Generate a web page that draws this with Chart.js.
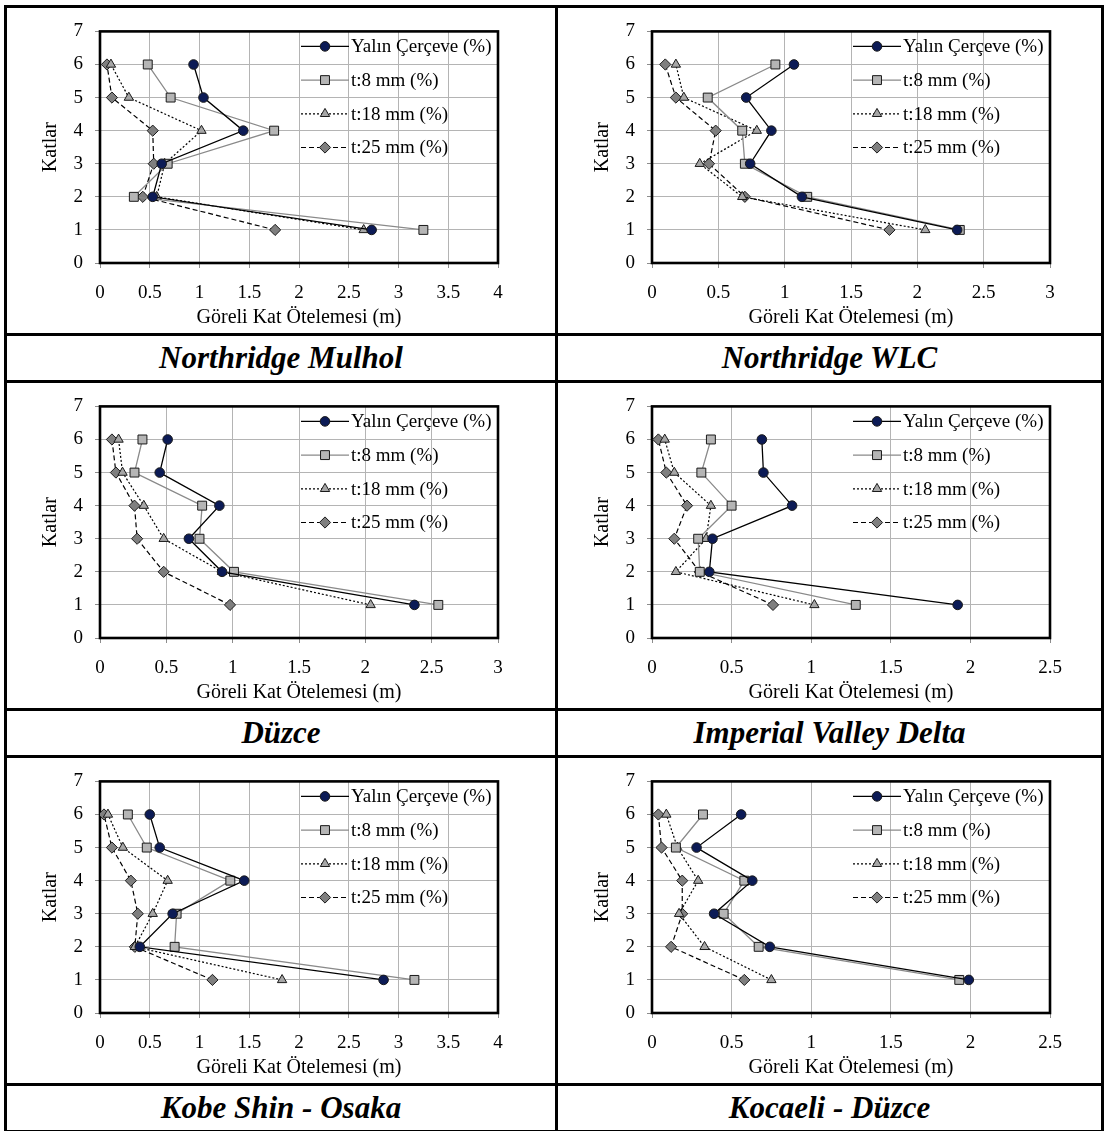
<!DOCTYPE html>
<html lang="tr">
<head>
<meta charset="utf-8">
<title>Göreli Kat Ötelemesi</title>
<script src="https://cdn.jsdelivr.net/npm/chart.js@4.4.1/dist/chart.umd.min.js"></script>
<style>
    html, body { margin: 0; padding: 0; background: #fff; }
    body { width: 1105px; height: 1131px; position: relative; overflow: hidden; }
    canvas { position: absolute; }
    .cizgi { position: absolute; background: #000; }
    .baslik {
        position: absolute;
        font: bold italic 31px 'Liberation Serif', 'Times New Roman', serif;
        text-align: center;
        height: 44px;
        line-height: 44px;
        color: #000;
    }
</style>
</head>
<body>
<script>
// Katlar (1. kattan 6. kata)
const katlar = [1, 2, 3, 4, 5, 6];
const seriAdlari = ['Yalın Çerçeve (%)', 't:8 mm (%)', 't:18 mm (%)', 't:25 mm (%)'];
const depremler = ['Northridge Mulhol', 'Northridge WLC', 'Düzce', 'Imperial Valley Delta', 'Kobe Shin - Osaka', 'Kocaeli - Düzce'];
const xEksenMax = [4, 3, 3, 2.5, 4, 2.5];

// Göreli kat ötelemeleri, kat sırasıyla
const mulholYalin = [2.73, 0.53, 0.62, 1.44, 1.04, 0.94];
const mulholT8    = [3.25, 0.34, 0.68, 1.75, 0.71, 0.48];
const mulholT18   = [2.65, 0.57, 0.65, 1.02, 0.29, 0.11];
const mulholT25   = [1.76, 0.43, 0.54, 0.53, 0.12, 0.07];

const wlcYalin = [2.30, 1.13, 0.74, 0.90, 0.71, 1.07];
const wlcT8    = [2.32, 1.17, 0.70, 0.68, 0.42, 0.93];
const wlcT18   = [2.06, 0.68, 0.36, 0.79, 0.24, 0.18];
const wlcT25   = [1.79, 0.70, 0.43, 0.48, 0.18, 0.10];

const duzceYalin = [2.37, 0.92, 0.67, 0.90, 0.45, 0.51];
const duzceT8    = [2.55, 1.01, 0.75, 0.77, 0.26, 0.32];
const duzceT18   = [2.04, 0.92, 0.48, 0.33, 0.17, 0.14];
const duzceT25   = [0.98, 0.48, 0.28, 0.26, 0.12, 0.09];

const imperialYalin = [1.92, 0.36, 0.38, 0.88, 0.70, 0.69];
const imperialT8    = [1.28, 0.30, 0.29, 0.50, 0.31, 0.37];
const imperialT18   = [1.02, 0.15, 0.34, 0.37, 0.14, 0.08];
const imperialT25   = [0.76, 0.30, 0.14, 0.22, 0.09, 0.04];

const kobeYalin = [2.85, 0.40, 0.73, 1.45, 0.60, 0.50];
const kobeT8    = [3.16, 0.75, 0.77, 1.31, 0.47, 0.28];
const kobeT18   = [1.83, 0.35, 0.53, 0.68, 0.23, 0.08];
const kobeT25   = [1.13, 0.35, 0.38, 0.31, 0.12, 0.04];

const kocaeliYalin = [1.99, 0.74, 0.39, 0.63, 0.28, 0.56];
const kocaeliT8    = [1.93, 0.67, 0.45, 0.58, 0.15, 0.32];
const kocaeliT18   = [0.75, 0.33, 0.17, 0.29, 0.16, 0.09];
const kocaeliT25   = [0.58, 0.12, 0.19, 0.19, 0.06, 0.04];

const tumVeriler = [
    [mulholYalin, mulholT8, mulholT18, mulholT25],
    [wlcYalin, wlcT8, wlcT18, wlcT25],
    [duzceYalin, duzceT8, duzceT18, duzceT25],
    [imperialYalin, imperialT8, imperialT18, imperialT25],
    [kobeYalin, kobeT8, kobeT18, kobeT25],
    [kocaeliYalin, kocaeliT8, kocaeliT18, kocaeliT25]
];

// Seri görünümleri
const seriStilleri = [
    { borderColor: '#000', borderWidth: 1.3, borderDash: [], pointStyle: 'circle', pointRadius: 4.8, pointBackgroundColor: '#0c1b56' },
    { borderColor: '#8a8a8a', borderWidth: 1.3, borderDash: [], pointStyle: 'rect', pointRadius: 6.3, pointBackgroundColor: '#b5b5b5' },
    { borderColor: '#000', borderWidth: 1.2, borderDash: [2, 2], pointStyle: 'triangle', pointRadius: 5.4, pointBackgroundColor: '#a6a6a6' },
    { borderColor: '#000', borderWidth: 1.2, borderDash: [5, 3], pointStyle: 'rectRot', pointRadius: 5.6, pointBackgroundColor: '#7f7f7f' }
];

const yaziTipi = "'Liberation Serif', 'Times New Roman', serif";
Chart.defaults.font.family = yaziTipi;
Chart.defaults.color = '#000';

// Tablo çizgileri
function cizgi(x, y, w, h) {
    const d = document.createElement('div');
    d.className = 'cizgi';
    d.style.left = x + 'px';
    d.style.top = y + 'px';
    d.style.width = w + 'px';
    d.style.height = h + 'px';
    document.body.appendChild(d);
}

// Grafik alanının kalın çerçevesi
const cerceveEklentisi = {
    id: 'cerceve',
    beforeDatasetsDraw(chart) {
        const a = chart.chartArea;
        const ctx = chart.ctx;
        ctx.save();
        ctx.strokeStyle = '#000';
        ctx.lineWidth = 2.6;
        ctx.strokeRect(a.left, a.top, a.right - a.left, a.bottom - a.top);
        ctx.restore();
    }
};

function isaretCiz(ctx, stil, r, x, y) {
    ctx.beginPath();
    if (stil === 'circle') {
        ctx.arc(x, y, r, 0, Math.PI * 2);
    } else if (stil === 'rect') {
        const s = r * Math.SQRT1_2;
        ctx.rect(x - s, y - s, 2 * s, 2 * s);
    } else if (stil === 'triangle') {
        ctx.moveTo(x, y - r);
        ctx.lineTo(x + r * Math.sin(Math.PI * 2 / 3), y - r * Math.cos(Math.PI * 2 / 3));
        ctx.lineTo(x + r * Math.sin(Math.PI * 4 / 3), y - r * Math.cos(Math.PI * 4 / 3));
        ctx.closePath();
    } else {
        ctx.moveTo(x, y - r);
        ctx.lineTo(x + r, y);
        ctx.lineTo(x, y + r);
        ctx.lineTo(x - r, y);
        ctx.closePath();
    }
    ctx.fill();
    ctx.stroke();
}

// Grafik içindeki lejant (çizgi + işaret)
const lejantEklentisi = {
    id: 'lejant',
    afterDraw(chart) {
        const a = chart.chartArea;
        const ctx = chart.ctx;
        ctx.save();
        chart.data.datasets.forEach(function(ds, i) {
            const y = a.top + 15 + i * 33.7;
            const x0 = a.right - 197;
            ctx.strokeStyle = ds.borderColor;
            ctx.lineWidth = ds.borderWidth;
            ctx.setLineDash(ds.borderDash);
            ctx.beginPath();
            ctx.moveTo(x0, y);
            ctx.lineTo(x0 + 48, y);
            ctx.stroke();
            ctx.setLineDash([]);
            ctx.fillStyle = ds.pointBackgroundColor;
            ctx.strokeStyle = '#1a1a1a';
            ctx.lineWidth = 1;
            isaretCiz(ctx, ds.pointStyle, ds.pointRadius, x0 + 24, y);
            ctx.fillStyle = '#000';
            ctx.font = '19px ' + yaziTipi;
            ctx.textBaseline = 'middle';
            ctx.textAlign = 'left';
            ctx.fillText(ds.label, a.right - 147, y + 1);
        });
        ctx.restore();
    }
};

function grafikOlustur(canvas, seriler, xMax) {
    const datasets = seriler.map(function(degerler, i) {
        const s = seriStilleri[i];
        return {
            label: seriAdlari[i],
            data: degerler.map(function(v, k) { return { x: v, y: katlar[k] }; }),
            showLine: true,
            borderColor: s.borderColor,
            borderWidth: s.borderWidth,
            borderDash: s.borderDash,
            pointStyle: s.pointStyle,
            pointRadius: s.pointRadius,
            pointBackgroundColor: s.pointBackgroundColor,
            pointBorderColor: '#1a1a1a',
            pointBorderWidth: 1,
            tension: 0
        };
    });

    return new Chart(canvas, {
        type: 'scatter',
        data: { datasets: datasets },
        options: {
            responsive: false,
            animation: false,
            devicePixelRatio: 1,
            locale: 'en-US',
            layout: { padding: { top: 22, right: 52, bottom: 0, left: 0 } },
            plugins: {
                legend: { display: false },
                tooltip: { enabled: false }
            },
            scales: {
                x: {
                    type: 'linear',
                    min: 0,
                    max: xMax,
                    border: { display: false },
                    grid: { color: '#b4b4b4', tickLength: 5, tickColor: '#8c8c8c' },
                    ticks: {
                        stepSize: 0.5,
                        autoSkip: false,
                        padding: 14,
                        font: { size: 19, family: yaziTipi },
                        color: '#000',
                        callback: function(value) { return String(Math.round(value * 10) / 10); }
                    },
                    title: {
                        display: true,
                        text: 'Göreli Kat Ötelemesi (m)',
                        font: { size: 20, family: yaziTipi },
                        color: '#000',
                        padding: { top: 0, bottom: 3 }
                    },
                    afterFit: function(scale) { scale.height = 70; }
                },
                y: {
                    type: 'linear',
                    min: 0,
                    max: 7,
                    border: { display: false },
                    grid: { color: '#b4b4b4', tickLength: 5, tickColor: '#8c8c8c' },
                    ticks: { stepSize: 1, padding: 12, font: { size: 19, family: yaziTipi }, color: '#000' },
                    title: {
                        display: true,
                        text: 'Katlar',
                        font: { size: 20, family: yaziTipi },
                        color: '#000',
                        padding: { top: 32, bottom: 0 }
                    },
                    afterFit: function(scale) { scale.width = 93; }
                }
            }
        },
        plugins: [cerceveEklentisi, lejantEklentisi]
    });
}

// 3 satır x 2 sütun tablo
for (let r = 0; r < 3; r++) {
    for (let c = 0; c < 2; c++) {
        const n = r * 2 + c;
        const cv = document.createElement('canvas');
        cv.width = 543;
        cv.height = 325;
        cv.style.left = (7 + 552 * c) + 'px';
        cv.style.top = (8 + 375 * r) + 'px';
        document.body.appendChild(cv);
        grafikOlustur(cv, tumVeriler[n], xEksenMax[n]);

        const b = document.createElement('div');
        b.className = 'baslik';
        b.textContent = depremler[n];
        b.style.left = (c === 0 ? 7 : 558) + 'px';
        b.style.width = (c === 0 ? 548 : 543) + 'px';
        b.style.top = (336 + 375 * r) + 'px';
        document.body.appendChild(b);
    }
    cizgi(4, 5 + 375 * r, 1100, 3);
    cizgi(4, 333 + 375 * r, 1100, 3);
}
cizgi(4, 1130, 1100, 3);
cizgi(4, 5, 3, 1126);
cizgi(555, 5, 3, 1126);
cizgi(1101, 5, 3, 1126);
</script>
</body>
</html>
